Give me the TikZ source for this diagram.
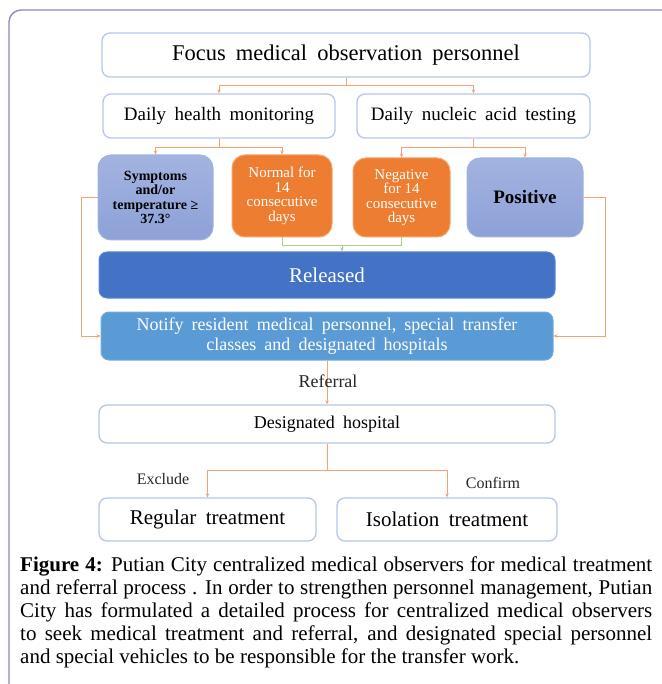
\documentclass[tikz,border=0pt]{standalone}
\usepackage{fontspec}
\setmainfont{Liberation Serif}
\newfontfamily\dfont[WordSpace=1.8]{Liberation Serif}
\usetikzlibrary{arrows.meta}
\definecolor{frame}{HTML}{8C88B8}
\definecolor{boxline}{HTML}{B4C7E7}
\definecolor{lav}{HTML}{A3B3E0}
\definecolor{lavdark}{HTML}{8DA1D8}
\definecolor{lavline}{HTML}{9FB3E3}
\definecolor{orng}{HTML}{ED7D31}
\definecolor{orngline}{HTML}{F3A46C}
\definecolor{relblue}{HTML}{4472C4}
\definecolor{notblue}{HTML}{5B9BD5}
\definecolor{conn}{HTML}{F4A470}
\definecolor{grn}{HTML}{A9D18E}
\newcommand{\fsz}[2]{\fontsize{#1}{#2}\selectfont}
\begin{document}
\begin{tikzpicture}[x=1pt,y=-1pt,
  wbox/.style={draw=boxline, line width=1.3pt, rounded corners=8pt, fill=white, inner sep=0pt, align=center},
  lbox/.style={draw=lavline, line width=1pt, rounded corners=13pt, top color=lav, bottom color=lavdark, inner sep=0pt, align=center},
  obox/.style={draw=orngline, line width=1pt, rounded corners=13pt, fill=orng, text=white, inner sep=0pt, align=center},
  bbox/.style={line width=1pt, rounded corners=8pt, text=white, inner sep=0pt, align=center},
  oarrow/.style={draw=conn, line width=0.9pt, -{Stealth[length=4pt,width=3.5pt]}},
  oline/.style={draw=conn, line width=0.9pt},
  garrow/.style={draw=grn, line width=0.9pt, -{Stealth[length=4pt,width=3.5pt]}},
  gline/.style={draw=grn, line width=0.9pt},
  lbl/.style={inner sep=0pt, text=black!85}
]
\useasboundingbox (0,0) rectangle (661,684);
\fill[white] (0,0) rectangle (661,684);
% outer frame
\draw[frame, line width=1.3pt] (9,690) -- (9,22) arc[start angle=180, end angle=270, radius=12] -- (670,10);

% nodes
\node[wbox, minimum width=488pt, minimum height=44pt, font=\dfont\fsz{22.5}{24}] (focus) at (346,55) {Focus medical observation personnel};
\node[wbox, minimum width=232pt, minimum height=44pt, font=\dfont\fsz{19}{21}] (dhm) at (219,116) {Daily health monitoring};
\node[wbox, minimum width=233pt, minimum height=44pt, font=\dfont\fsz{19}{21}] (dna) at (473.5,116) {Daily nucleic acid testing};

\node[lbox, minimum width=115pt, minimum height=85pt, font=\bfseries\fsz{14}{14.5}] (sym) at (155.5,197.5) {Symptoms\\and/or\\temperature ≥\\37.3°};
\node[obox, minimum width=100pt, minimum height=82pt, font=\fsz{15}{14.5}] (norm) at (282,196) {Normal for\\14\\consecutive\\days};
\node[obox, minimum width=97pt, minimum height=79pt, font=\fsz{15}{14.5}] (neg) at (401.5,197.5) {Negative\\for 14\\consecutive\\days};
\node[lbox, minimum width=116pt, minimum height=79pt, font=\bfseries\fsz{19}{21}] (pos) at (525,197.5) {Positive};

\node[bbox, fill=relblue, draw=relblue!85!white, minimum width=456pt, minimum height=46pt, font=\dfont\fsz{21}{23}] (rel) at (327,275) {Released};
\node[bbox, fill=notblue, draw=notblue!85!white, minimum width=452pt, minimum height=48pt, font=\dfont\fsz{18}{20}] (noti) at (327,336) {Notify resident medical personnel, special transfer\\classes and designated hospitals};

\node[wbox, minimum width=456pt, minimum height=38pt, font=\dfont\fsz{18}{20}] (des) at (327,424) {Designated hospital};
\node[wbox, minimum width=217pt, minimum height=43pt, font=\dfont\fsz{21}{23}] (reg) at (207.5,519.5) {Regular treatment};
\node[wbox, minimum width=220pt, minimum height=43pt, font=\dfont\fsz{21}{23}] (iso) at (447,519.5) {Isolation treatment};

% connectors
\draw[oline] (focus.south) -- ++(0,8) coordinate (fj);
\draw[oarrow] (fj) -| (dhm.north);
\draw[oarrow] (fj) -| (dna.north);

\draw[oline] (dhm.south) -- ++(0,9) coordinate (hj);
\draw[oarrow] (hj) -| (sym.north);
\draw[oarrow] (hj) -| (norm.north);

\draw[oline] (dna.south) -- ++(0,9) coordinate (nj);
\draw[oarrow] (nj) -| (neg.north);
\draw[oarrow] (nj) -| (pos.north);

\draw[gline] (norm.south) -- ++(0,8) -| (neg.south);
\coordinate (gj) at (342,245);
\draw[garrow] (gj) -- (gj |- rel.north);

\draw[oarrow] (sym.west) -- ++(-16,0) |- (noti.west);
\draw[oarrow] (pos.east) -- ++(22,0) |- (noti.east);

\draw[oarrow] (noti.south) -- (des.north);
\node[lbl, font=\fsz{18}{20}] (referral) at (328,381) {Referral};

\draw[oline] (des.south) -- ++(0,27) coordinate (dj);
\draw[oarrow] (dj) -| (reg.north);
\draw[oarrow] (dj) -| (iso.north);
\node[lbl, font=\fsz{16}{18}] (excl) at (163,479) {Exclude};
\node[lbl, font=\fsz{16}{18}] (conf) at (493,483) {Confirm};

% caption
\node[anchor=north west, inner sep=0pt, text width=632pt, align=justify, font=\fsz{21}{23}] (cap) at (20,557) {\noindent\textbf{Figure 4:} Putian City centralized medical observers for medical treatment\linebreak and referral process . In order to strengthen personnel management, Putian\linebreak City has formulated a detailed process for centralized medical observers\linebreak to seek medical treatment and referral, and designated special personnel\linebreak and special vehicles to be responsible for the transfer work.};
\end{tikzpicture}
\end{document}
